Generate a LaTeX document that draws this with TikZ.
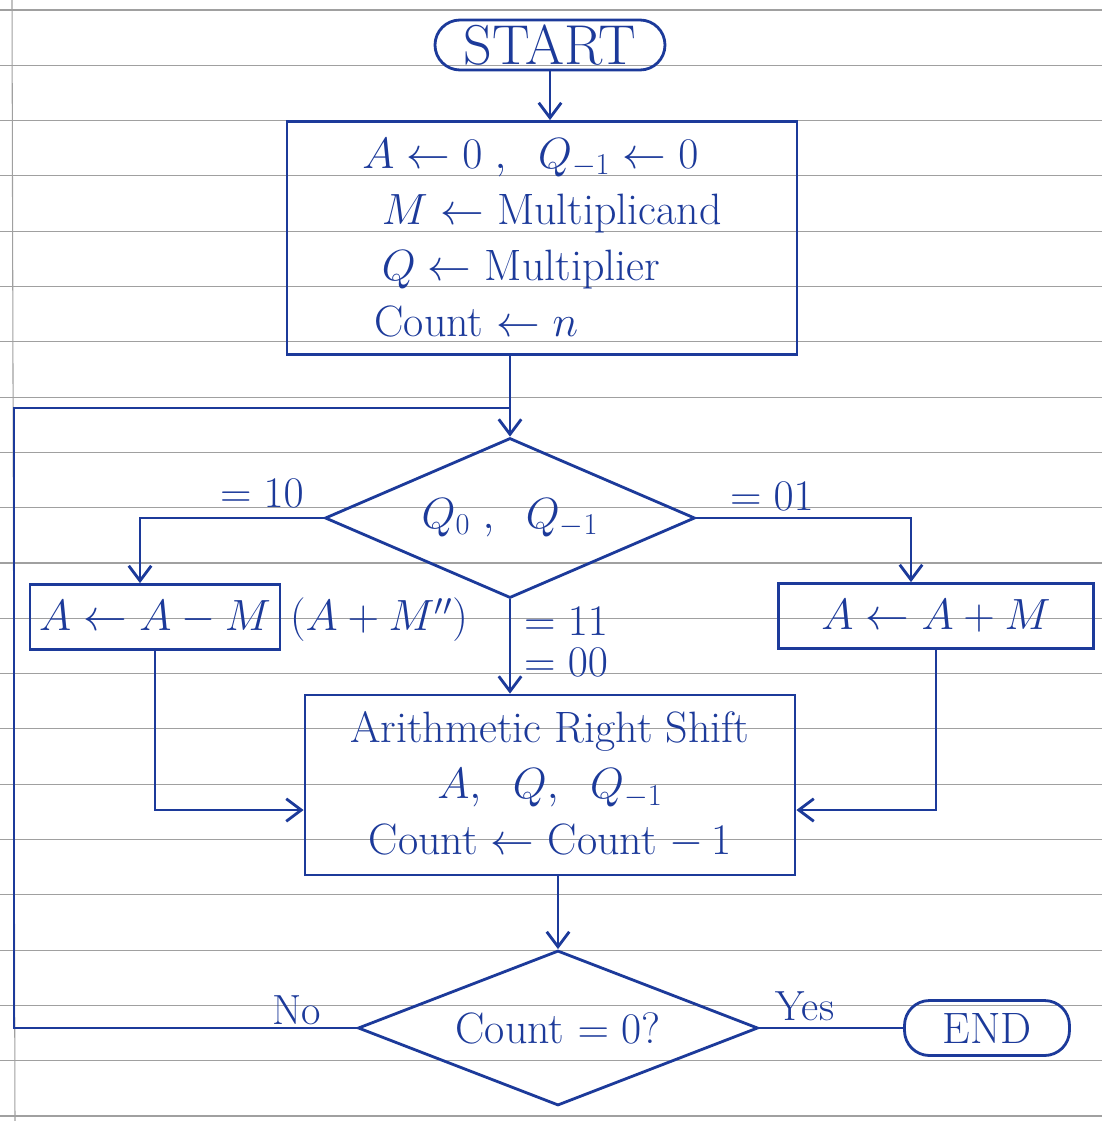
\documentclass[tikz,border=0pt]{standalone}
\usepackage{amsmath,amssymb}
\usepackage{xcolor}
\definecolor{ink}{HTML}{1C3A9A}
\definecolor{ruled}{HTML}{A0A0A0}
\usetikzlibrary{arrows.meta,positioning,calc,shapes.geometric,backgrounds}
\tikzset{
  >={Straight Barb[length=3mm,width=4.5mm]},
  pen/.style={draw=ink,line width=1.6pt},
  box/.style={pen,rectangle,inner sep=2pt,text=ink,font=\fontsize{25}{32}\selectfont,align=center},
  term/.style={box,rounded corners=5mm,font=\fontsize{32}{36}\selectfont},
  dec/.style={box,diamond,aspect=2.4,inner sep=0pt},
  lab/.style={text=ink,font=\fontsize{24}{28}\selectfont},
  arr/.style={pen,->},
  wire/.style={pen},
  paper/.style={draw=ruled,line width=0.6pt},
}

\begin{document}
\begin{tikzpicture}[x=0.2mm,y=-0.2mm]
\useasboundingbox (0,0) rectangle (1102,1121);
% blocks
\node[term,minimum width=46mm,minimum height=10mm] (start) at (550,45) {START};
\node[box,minimum width=102mm,minimum height=46.6mm,align=left] (init) at (542,238)
  {$A \leftarrow 0\;,\;\; Q_{-1} \leftarrow 0$\\
   \;\,$M \leftarrow$ Multiplicand\\
   \;\,$Q \leftarrow$ Multiplier\\
   \;Count $\leftarrow n$};
\node[dec,minimum width=74mm,minimum height=32mm] (dq) at (510,518) {$Q_0\;,\;\; Q_{-1}$};
\node[box,minimum width=50mm,minimum height=13mm] (sub) at (155,617) {$A \leftarrow A - M$};
\node[box,minimum width=63mm,minimum height=13mm] (add) at (936,616) {$A \leftarrow A + M$};
\node[box,minimum width=98mm,minimum height=36mm] (shift) at (550,785)
  {Arithmetic Right Shift\\ $A,\;\; Q,\;\; Q_{-1}$\\ Count $\leftarrow$ Count $-\,1$};
\node[dec,minimum width=80mm,minimum height=31mm] (dc) at (558,1028) {Count $= 0$?};
\node[term,minimum width=33mm,minimum height=11mm,font=\fontsize{25}{30}\selectfont] (stop) at (987,1028) {END};
\coordinate (lp) at (14,408);

% connectors
\draw[arr] (start.south) -- (start.south |- init.north);
\draw[arr] (init.south -| dq.north) -- (dq.north);
\draw[wire] (dc.west) -| (lp) -- (dq.north |- lp);
\draw[arr] (dq.west) -| ([xshift=-3mm]sub.north);
\draw[arr] (dq.east) -| ([xshift=-5mm]add.north);
\draw[arr] (dq.south) -- (dq.south |- shift.north);
\draw[arr] (sub.south) |- ([yshift=-5mm]shift.west);
\draw[arr] (add.south) |- ([yshift=-5mm]shift.east);
\draw[arr] (dc.north |- shift.south) -- (dc.north);
\draw[wire] (dc.east) -- (stop.west);

% labels
\node[lab] (l10) at (262,493) {$=10$};
\node[lab] (l01) at (772,496) {$=01$};
\node[lab,anchor=west] (l11) at (518,621) {$=11$};
\node[lab,anchor=west] (l00) at (518,662) {$=00$};
\node[lab,anchor=west] (lam) at (284,620) {$(A+M'')$};
\node[lab] (lno) at (297,1010) {No};
\node[lab] (lyes) at (805,1006) {Yes};

% ruled paper
\begin{scope}[on background layer]
\fill[white] (0,0) rectangle (1102,1121);
\foreach \k in {0,...,20}
  \draw[paper] (0,{10+55.3*\k}) -- (1102,{10+55.3*\k});
\draw[paper] (12,0) -- (15,1121);
\end{scope}
\end{tikzpicture}
\end{document}
